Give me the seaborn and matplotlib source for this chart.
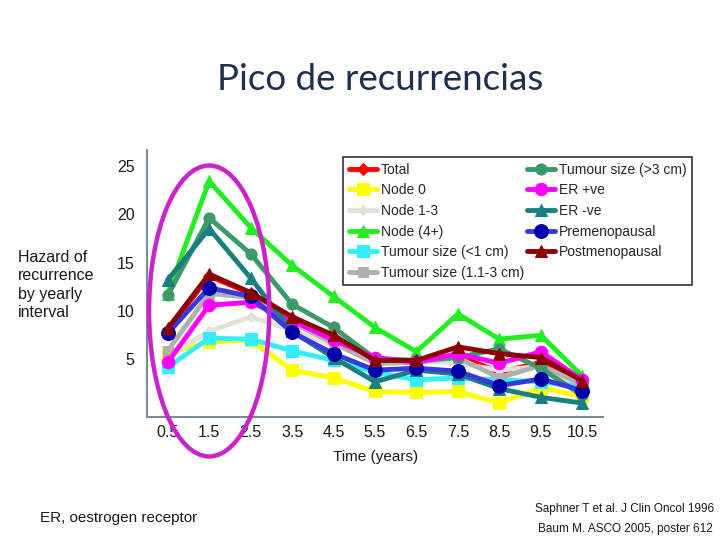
import numpy as np
import pandas as pd
import matplotlib
matplotlib.use("Agg")
import matplotlib.pyplot as plt
from matplotlib.patches import Ellipse
import seaborn as sns

years = [0.5, 1.5, 2.5, 3.5, 4.5, 5.5, 6.5, 7.5, 8.5, 9.5, 10.5]
tick_labels = ["0.5", "1.5", "2.5", "3.5", "4.5", "5.5", "6.5", "7.5", "8.5", "9.5", "10.5"]

total          = [8.0, 13.6, 11.8, 9.2, 7.2, 4.7, 4.9, 5.4, 3.7, 4.7, 2.4]
node0          = [5.7, 6.8, 7.0, 3.9, 3.1, 1.7, 1.6, 1.7, 0.5, 2.1, 1.2]
node13         = [5.4, 7.9, 9.4, 8.0, 6.5, 5.2, 4.9, 4.6, 3.9, 4.3, 2.1]
node4          = [11.8, 23.4, 18.6, 14.7, 11.5, 8.3, 5.8, 9.7, 7.1, 7.5, 3.3]
tumour_lt1     = [4.2, 7.2, 7.1, 5.9, 4.9, 3.7, 2.9, 3.1, 2.9, 2.7, 2.2]
tumour_1_3     = [5.9, 11.8, 11.4, 8.8, 6.7, 4.6, 4.7, 5.2, 3.1, 4.4, 2.4]
tumour_gt3     = [11.6, 19.6, 15.9, 10.7, 8.3, 5.1, 4.9, 5.2, 6.1, 4.1, 1.3]
er_pos         = [4.7, 10.6, 10.9, 9.0, 7.0, 5.2, 4.7, 5.6, 4.6, 5.8, 2.9]
er_neg         = [13.2, 18.5, 13.4, 7.9, 5.2, 2.7, 3.9, 3.5, 2.0, 1.1, 0.5]
premenopausal  = [7.7, 12.4, 11.5, 7.8, 5.6, 3.9, 4.1, 3.8, 2.3, 3.0, 1.8]
postmenopausal = [8.2, 13.8, 11.9, 9.4, 7.5, 4.9, 4.9, 6.3, 5.6, 5.2, 2.8]

series_names = ["Total", "Node 0", "Node 1-3", "Node (4+)", "Tumour size (<1 cm)",
                "Tumour size (1.1-3 cm)", "Tumour size (>3 cm)", "ER +ve", "ER -ve",
                "Premenopausal", "Postmenopausal"]
series_values = [total, node0, node13, node4, tumour_lt1, tumour_1_3, tumour_gt3,
                 er_pos, er_neg, premenopausal, postmenopausal]

styles = {
    "Total": dict(color="#FF0000", marker="D", mfc="#FF0000", ms=6),
    "Node 0": dict(color="#FFFF00", marker="s", mfc="#FFFF00", ms=8),
    "Node 1-3": dict(color="#E2E2DA", marker="D", mfc="#E2E2DA", ms=5),
    "Node (4+)": dict(color="#22EE22", marker="^", mfc="#22EE22", ms=9),
    "Tumour size (<1 cm)": dict(color="#33EEFF", marker="s", mfc="#33EEFF", ms=8),
    "Tumour size (1.1-3 cm)": dict(color="#B0B0B0", marker="s", mfc="#B0B0B0", ms=7),
    "Tumour size (>3 cm)": dict(color="#3A9A6A", marker="o", mfc="#3A9A6A", ms=8),
    "ER +ve": dict(color="#FF00FF", marker="o", mfc="#FF00FF", ms=9),
    "ER -ve": dict(color="#1A7F7F", marker="^", mfc="#1A7F7F", ms=9),
    "Premenopausal": dict(color="#3838DD", marker="o", mfc="#0000AA", ms=10),
    "Postmenopausal": dict(color="#8B0000", marker="^", mfc="#8B0000", ms=9),
}

sns.set_theme(style="white")
plt.rcParams["font.family"] = ["Liberation Sans", "DejaVu Sans"]

fig = plt.figure(figsize=(7.2, 5.4), dpi=100)
ax = fig.add_axes([147/720, 1-417/540, (603-147)/720, (417-150)/540])

for name, vals in zip(series_names, series_values):
    st = styles[name]
    sns.lineplot(x=years, y=vals, ax=ax, color=st["color"], marker=st["marker"],
                 markersize=st["ms"], markerfacecolor=st["mfc"], markeredgecolor=st["mfc"],
                 linewidth=3.5, label=name, legend=False)

ax.set_xlim(0, 11)
ax.set_ylim(-0.93, 26.6)
ax.set_xticks(years)
ax.set_xticklabels(tick_labels)
ax.set_yticks([5, 10, 15, 20, 25])
ax.set_yticklabels(["5", "10", "15", "20", "25"])
ax.tick_params(axis="both", length=0, labelsize=11.5, colors="#1a1a1a")
ax.tick_params(axis="y", pad=9)
ax.tick_params(axis="x", pad=6)
for s in ["top", "right"]:
    ax.spines[s].set_visible(False)
for s in ["left", "bottom"]:
    ax.spines[s].set_color("#7A8A99")
    ax.spines[s].set_linewidth(1.5)
ax.grid(False)

# highlight ellipse
ell = Ellipse((1.5, 10.0), width=2.9, height=30.0, fill=False, edgecolor="#CC22CC",
              linewidth=3.2, clip_on=False, zorder=10)
ax.add_patch(ell)

handles, labels = ax.get_legend_handles_labels()
leg = fig.legend(handles, labels, ncol=2, loc="upper right",
                 bbox_to_anchor=(692/720, 1-157/540), frameon=True, fancybox=False,
                 edgecolor="black", fontsize=10, handlelength=2.0, handletextpad=0.3,
                 labelspacing=0.48, columnspacing=0.2, borderpad=0.4,
                 borderaxespad=0.0)
leg.get_frame().set_linewidth(1.2)
leg.get_frame().set_facecolor("white")

fig.text(380/720, 1-80/540, "Pico de recurrencias", ha="center", va="center",
         fontsize=26.5, color="#1F2F4F", family=["Lato", "DejaVu Sans"])
fig.text(18/720, 1-285/540, "Hazard of\nrecurrence\nby yearly\ninterval", ha="left",
         va="center", fontsize=11.5, linespacing=1.3, color="#1a1a1a")
fig.text(376/720, 1-457/540, "Time (years)", ha="center", va="center", fontsize=11,
         color="#1a1a1a")
fig.text(40/720, 1-518/540, "ER, oestrogen receptor", ha="left", va="center",
         fontsize=11, color="#1a1a1a")
fig.text(625/720, 1-509/540, "Saphner T et al. J Clin Oncol 1996", ha="center",
         va="center", fontsize=8.5, color="#1a1a1a")
fig.text(625/720, 1-529/540, "Baum M. ASCO 2005, poster 612", ha="center",
         va="center", fontsize=8.5, color="#1a1a1a")

fig.savefig("out.png", dpi=100)
